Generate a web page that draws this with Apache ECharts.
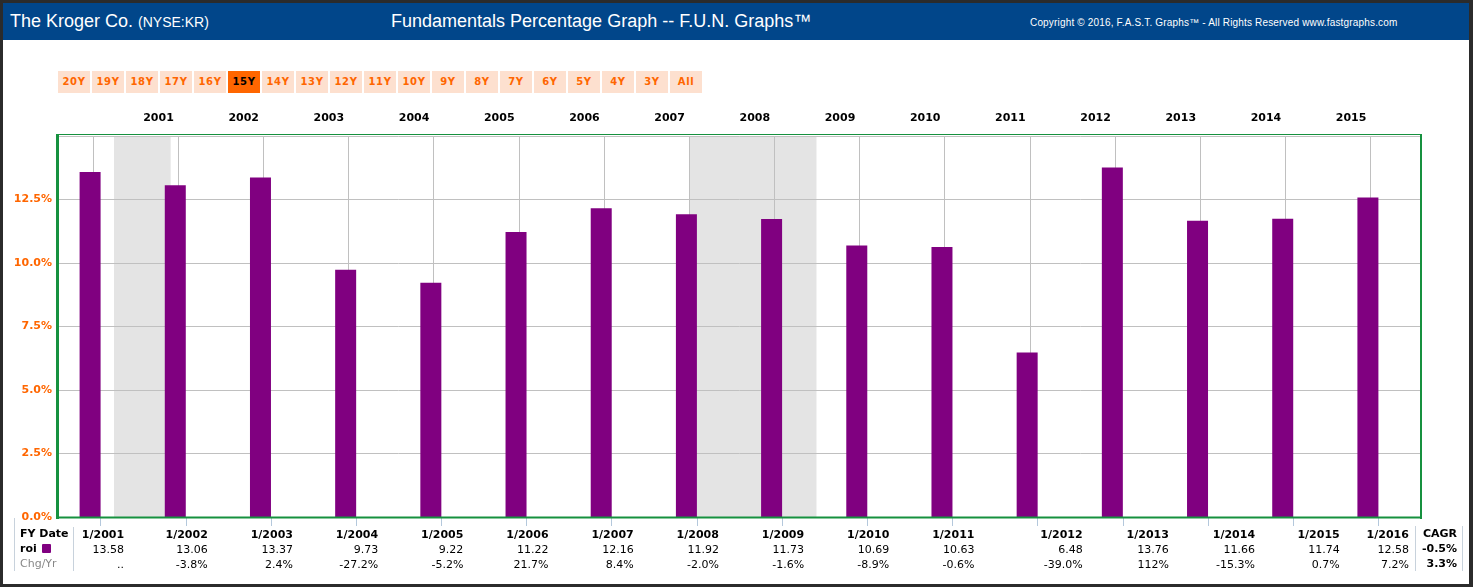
<!DOCTYPE html>
<html>
<head>
<meta charset="utf-8">
<script src="https://cdn.jsdelivr.net/npm/echarts@6/dist/echarts.min.js"></script>
<style>
  body { margin: 0; background: #2b2b2b; width: 1473px; height: 587px; overflow: hidden; }
  #frame { position: absolute; left: 3px; top: 3px; width: 1466px; height: 581px; background: #fff; }
  #head { position: absolute; left: 3px; top: 3px; width: 1466px; height: 37px; background: #01468a; color: #fff; font-family: "Liberation Sans", Arial, sans-serif; }
  #head .co { position: absolute; left: 7px; top: 8px; font-size: 18px; }
  #head .co small { font-size: 14px; }
  #head .ttl { position: absolute; left: 388px; top: 8px; font-size: 18px; }
  #head .cp { position: absolute; left: 1027px; top: 14px; font-size: 10px; letter-spacing: 0.17px; }
  #btns { position: absolute; left: 58px; top: 71px; }
  #btns div { position: absolute; top: 0; width: 32px; height: 22px; text-align: center; background: #fde0cf; color: #ff6600; font: bold 10px "DejaVu Sans", sans-serif; line-height: 21px; letter-spacing: 0.6px; }
  #btns div.on { background: #ff6600; color: #000; }
  #chart { position: absolute; left: 0; top: 0; width: 1473px; height: 587px; }
</style>
</head>
<body>
<div id="frame"></div>
<div id="head">
  <div class="co">The Kroger Co. <small>(NYSE:KR)</small></div>
  <div class="ttl">Fundamentals Percentage Graph -- F.U.N. Graphs™</div>
  <div class="cp">Copyright © 2016, F.A.S.T. Graphs™ - All Rights Reserved www.fastgraphs.com</div>
</div>
<div id="btns"></div>
<div id="chart"></div>
<script>
// data
const fyDates = ['1/2001', '1/2002', '1/2003', '1/2004', '1/2005', '1/2006', '1/2007', '1/2008',
  '1/2009', '1/2010', '1/2011', '1/2012', '1/2013', '1/2014', '1/2015', '1/2016']
const roi = [13.58, 13.06, 13.37, 9.73, 9.22, 11.22, 12.16, 11.92, 11.73, 10.69, 10.63, 6.48, 13.76, 11.66, 11.74, 12.58]
const chgYr = ['..', '-3.8%', '2.4%', '-27.2%', '-5.2%', '21.7%', '8.4%', '-2.0%', '-1.6%', '-8.9%',
  '-0.6%', '-39.0%', '112%', '-15.3%', '0.7%', '7.2%']
const calYears = ['2001', '2002', '2003', '2004', '2005', '2006', '2007', '2008', '2009', '2010',
  '2011', '2012', '2013', '2014', '2015']
const recessions = [['2001-04-01', '2001-11-30'], ['2008-01-01', '2009-06-30']]
const cagr = ['-0.5%', '3.3%']
const ranges = ['20Y', '19Y', '18Y', '17Y', '16Y', '15Y', '14Y', '13Y', '12Y', '11Y', '10Y', '9Y', '8Y', '7Y', '6Y', '5Y', '4Y', '3Y', 'All']
const activeRange = '15Y'
const timeSpan = ['2000-08-04', '2016-08-04']

// range buttons
const btns = document.getElementById('btns')
ranges.forEach((r, i) => {
  const d = document.createElement('div')
  d.textContent = r
  d.style.left = (i * 34) + 'px'
  if (r === activeRange) d.className = 'on'
  btns.appendChild(d)
})

// table column widths (right edge of each column relative to its tick)
const colW = [47, 44, 44, 44, 44, 44, 44, 44, 44, 44, 44, 90, 92, 94, 93, 61]
const font = 'DejaVu Sans'
const rich = {}
colW.forEach((w, i) => {
  rich['d' + i] = { width: w, align: 'right', fontWeight: 'bold', fontSize: 11, lineHeight: 15, color: '#000', fontFamily: font }
  rich['v' + i] = { width: w, align: 'right', fontSize: 11, lineHeight: 15, color: '#000', fontFamily: font }
  rich['c' + i] = { width: w, align: 'right', fontSize: 11, lineHeight: 15, color: '#000', fontFamily: font }
})

const green = '#16913f'
const chart = echarts.init(document.getElementById('chart'))
const option = {
  animation: false,
  grid: { left: 58, right: 52, top: 136, bottom: 70, show: false },
  xAxis: [
    {
      type: 'category',
      data: fyDates,
      position: 'bottom',
      axisLine: { show: false },
      axisTick: { show: true, alignWithLabel: true, length: 9, lineStyle: { color: '#b4c8dc' } },
      splitLine: { show: false },
      axisLabel: {
        interval: 0, margin: 11,
        formatter: (v, i) => '{d' + i + '|' + v + '}\n{v' + i + '|' + roi[i].toFixed(2) + '}\n{c' + i + '|' + chgYr[i] + '}',
        rich: rich
      }
    },
    {
      type: 'category',
      data: [''].concat(calYears, ['']),
      position: 'top',
      boundaryGap: false,
      axisLine: { show: false },
      axisTick: { show: false },
      splitLine: { show: false },
      axisLabel: { interval: 0, align: 'left', margin: 12, fontWeight: 'bold', fontSize: 11, color: '#000', fontFamily: font }
    },
    {
      type: 'time',
      min: timeSpan[0],
      max: timeSpan[1],
      splitNumber: 16,
      axisLine: { show: false },
      axisTick: { show: false },
      axisLabel: { show: false },
      splitLine: { show: true, lineStyle: { color: '#c0c0c0', width: 1 } }
    }
  ],
  yAxis: {
    type: 'value',
    min: 0, max: 15, interval: 2.5,
    axisLine: { show: false },
    axisTick: { show: false },
    splitLine: { lineStyle: { color: '#c0c0c0' } },
    axisLabel: {
      margin: 6, showMaxLabel: false, color: '#ff6600', fontWeight: 'bold', fontSize: 11, fontFamily: font,
      formatter: v => v.toFixed(1) + '%'
    }
  },
  series: [
    {
      name: 'roi', type: 'bar', xAxisIndex: 0, data: roi,
      barWidth: 21, barGap: '0%', itemStyle: { color: '#800080' }, z: 3
    },
    {
      name: 'spacer', type: 'bar', xAxisIndex: 0, data: [],
      barWidth: 21, barGap: '0%'
    },
    {
      name: 'recession', type: 'line', xAxisIndex: 2, data: [], z: -1, silent: true,
      markArea: {
        silent: true, z: -1,
        itemStyle: { color: '#e4e4e4' },
        data: recessions.map(r => [{ xAxis: r[0] }, { xAxis: r[1] }])
      }
    }
  ],
  graphic: [
    // plot frame
    { type: 'line', z: 100, shape: { x1: 57, y1: 134.5, x2: 1421, y2: 134.5 }, style: { stroke: green, lineWidth: 1 } },
    { type: 'line', z: 100, shape: { x1: 57.5, y1: 134, x2: 57.5, y2: 519 }, style: { stroke: green, lineWidth: 3 } },
    { type: 'line', z: 100, shape: { x1: 1421, y1: 134, x2: 1421, y2: 519 }, style: { stroke: green, lineWidth: 2 } },
    { type: 'line', z: 100, shape: { x1: 57, y1: 517.5, x2: 1422, y2: 517.5 }, style: { stroke: green, lineWidth: 2 } },
    // table side columns
    { type: 'line', shape: { x1: 14.5, y1: 518, x2: 14.5, y2: 571 }, style: { stroke: '#c8d2dc', lineWidth: 1 } },
    { type: 'line', shape: { x1: 73.5, y1: 527, x2: 73.5, y2: 571 }, style: { stroke: '#c8d2dc', lineWidth: 1 } },
    { type: 'text', left: 20, top: 529, style: { text: 'FY Date', font: 'bold 11px "DejaVu Sans"', fill: '#000' } },
    { type: 'text', left: 20, top: 544, style: { text: 'roi', font: 'bold 11px "DejaVu Sans"', fill: '#000' } },
    { type: 'rect', shape: { x: 42, y: 544, width: 9, height: 9, r: 1 }, style: { fill: '#800080' } },
    { type: 'text', left: 20, top: 559, style: { text: 'Chg/Yr', font: '11px "DejaVu Sans"', fill: '#888' } },
    { type: 'line', shape: { x1: 1415.5, y1: 526, x2: 1415.5, y2: 571 }, style: { stroke: '#c8d2dc', lineWidth: 1 } },
    { type: 'line', shape: { x1: 1462.5, y1: 526, x2: 1462.5, y2: 571 }, style: { stroke: '#c8d2dc', lineWidth: 1 } },
    { type: 'text', right: 16, top: 529, style: { text: 'CAGR', font: 'bold 11px "DejaVu Sans"', fill: '#000' } },
    { type: 'text', right: 16, top: 544, style: { text: cagr[0], font: 'bold 11px "DejaVu Sans"', fill: '#000' } },
    { type: 'text', right: 16, top: 559, style: { text: cagr[1], font: 'bold 11px "DejaVu Sans"', fill: '#000' } }
  ]
}
chart.setOption(option)
</script>
</body>
</html>
